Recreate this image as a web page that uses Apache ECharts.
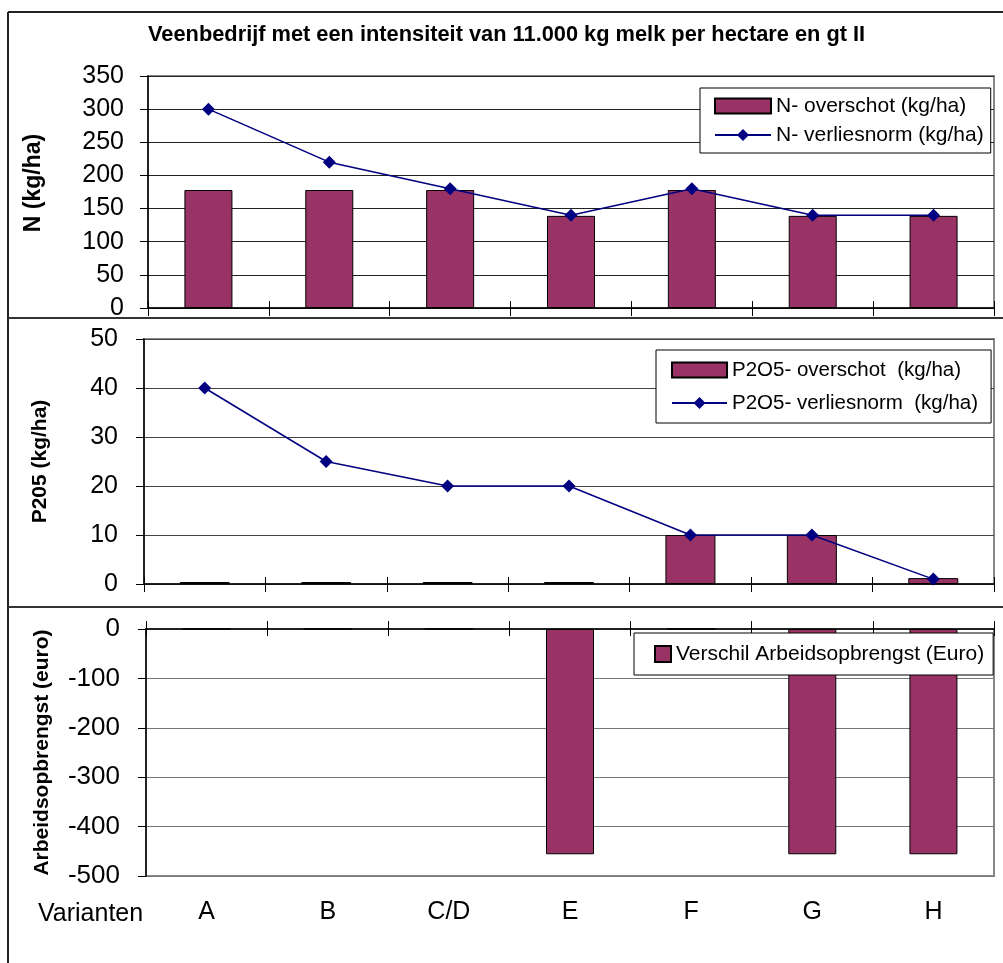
<!DOCTYPE html>
<html>
<head>
<meta charset="utf-8">
<script src="https://cdn.jsdelivr.net/npm/echarts@6/dist/echarts.min.js"></script>
<style>
html,body{margin:0;padding:0;background:#fff;}
#chart{width:1003px;height:963px;}
</style>
</head>
<body>
<div id="chart"></div>
<script>
const categories = ['A', 'B', 'C/D', 'E', 'F', 'G', 'H'];
const nOverschot = [178, 178, 178, 139, 178, 139, 139];
const nVerliesnorm = [300, 220, 180, 140, 180, 140, 140];
const pOverschot = [0.4, 0.4, 0.4, 0.4, 10, 10, 1.2];
const pVerliesnorm = [40, 25, 20, 20, 10, 10, 1];
const verschil = [0, 0, 0, -456, 0, -456, -456];
const titleText = 'Veenbedrijf met een intensiteit van 11.000 kg melk per hectare en gt II';
const xName = 'Varianten';

const FONT = 'Liberation Sans, Arial, sans-serif';
const PLUM = '#993366';
const NAVY = '#000080';

const chart = echarts.init(document.getElementById('chart'), null, {renderer: 'canvas'});

function mainX(gi, opts) {
  return Object.assign({
    type: 'category', gridIndex: gi, data: categories,
    boundaryGap: true,
    axisLine: {show: true, onZero: false, lineStyle: {color: '#000', width: 1.5}},
    axisTick: {show: true, inside: false, length: 8, lineStyle: {color: '#000', width: 1}},
    axisLabel: {show: false},
    splitLine: {show: false}
  }, opts || {});
}
function innerX(gi, opts) {
  return Object.assign({
    type: 'category', gridIndex: gi, data: categories,
    boundaryGap: true,
    axisLine: {show: false, onZero: false},
    axisTick: {show: true, inside: true, length: 7, lineStyle: {color: '#000', width: 1}},
    axisLabel: {show: false},
    splitLine: {show: false}
  }, opts || {});
}
function yAx(gi, min, max, interval, name, nameGap, nameSize, labelSize, margin, gridColor, namePad) {
  return {
    type: 'value', gridIndex: gi, min: min, max: max, interval: interval,
    name: name, nameLocation: 'middle', nameRotate: 90, nameGap: nameGap,
    nameTextStyle: {fontFamily: FONT, fontWeight: 'bold', fontSize: nameSize, color: '#000', padding: namePad || 0},
    axisLine: {show: true, lineStyle: {color: '#000', width: 1.5}},
    axisTick: {show: true, inside: false, length: 8, lineStyle: {color: '#000', width: 1}},
    axisLabel: {fontFamily: FONT, fontSize: labelSize, color: '#000', margin: margin},
    splitLine: {show: true, lineStyle: {color: gridColor, width: 1}}
  };
}

const option = {
  backgroundColor: '#fff',
  animation: false,
  title: {
    text: titleText, left: 148, top: 24, padding: 0,
    textStyle: {fontFamily: FONT, fontWeight: 'bold', fontSize: 21.8, color: '#000'}
  },
  grid: [
    {left: 148, top: 76, width: 846, height: 232, show: true, borderColor: '#888', borderWidth: 2, backgroundColor: 'transparent'},
    {left: 144, top: 339, width: 850, height: 245, show: true, borderColor: '#888', borderWidth: 2, backgroundColor: 'transparent'},
    {left: 146, top: 629, width: 848, height: 247, show: true, borderColor: '#888', borderWidth: 2, backgroundColor: 'transparent'}
  ],
  xAxis: [
    mainX(0, {position: 'bottom'}),
    innerX(0, {position: 'bottom'}),
    mainX(1, {position: 'bottom'}),
    innerX(1, {position: 'bottom'}),
    mainX(2, {position: 'top'}),
    innerX(2, {position: 'top'}),
    {
      type: 'category', gridIndex: 2, data: categories, position: 'bottom',
      axisLine: {show: false}, axisTick: {show: false}, splitLine: {show: false},
      axisLabel: {show: true, fontFamily: FONT, fontSize: 25, color: '#000', margin: 24}
    }
  ],
  yAxis: [
    yAx(0, 0, 350, 50, 'N (kg/ha)', 103, 23, 25, 24, '#222', [0, 0, 0, 18]),
    yAx(1, 0, 50, 10, 'P205 (kg/ha)', 93, 21, 25, 26, '#444'),
    yAx(2, -500, 0, 100, 'Arbeidsopbrengst (euro)', 93, 21, 26, 26, '#777')
  ],
  legend: [
    {
      data: [{name: 'N- overschot (kg/ha)', icon: 'rect'}, 'N- verliesnorm (kg/ha)'],
      orient: 'vertical', left: 700, top: 88, padding: [7, 7, 7, 14], itemGap: 7,
      itemWidth: 56, itemHeight: 15,
      backgroundColor: '#fff', borderColor: '#000', borderWidth: 1, borderRadius: 0,
      textStyle: {fontFamily: FONT, fontSize: 21, color: '#000', lineHeight: 22}
    },
    {
      data: [{name: 'P2O5- overschot  (kg/ha)', icon: 'rect'}, 'P2O5- verliesnorm  (kg/ha)'],
      orient: 'vertical', left: 656, top: 350, padding: [9, 13, 9, 15], itemGap: 11,
      itemWidth: 55, itemHeight: 15,
      backgroundColor: '#fff', borderColor: '#000', borderWidth: 1, borderRadius: 0,
      textStyle: {fontFamily: FONT, fontSize: 20.5, color: '#000', lineHeight: 22}
    },
    {
      data: [{name: 'Verschil Arbeidsopbrengst (Euro)', icon: 'rect'}],
      orient: 'vertical', left: 634, top: 633, padding: [10, 9, 10, 20],
      itemWidth: 16, itemHeight: 16,
      backgroundColor: '#fff', borderColor: '#000', borderWidth: 1, borderRadius: 0,
      textStyle: {fontFamily: FONT, fontSize: 21, color: '#000', lineHeight: 22}
    }
  ],
  series: [
    {
      name: 'N- overschot (kg/ha)', type: 'bar', xAxisIndex: 0, yAxisIndex: 0,
      data: nOverschot, barWidth: 48,
      itemStyle: {color: PLUM, borderColor: '#000', borderWidth: 1}
    },
    {
      name: 'N- verliesnorm (kg/ha)', type: 'line', xAxisIndex: 0, yAxisIndex: 0,
      data: nVerliesnorm, symbol: 'diamond', symbolSize: 13,
      lineStyle: {color: NAVY, width: 1.5}, itemStyle: {color: NAVY}
    },
    {
      name: 'P2O5- overschot  (kg/ha)', type: 'bar', xAxisIndex: 2, yAxisIndex: 1,
      data: pOverschot, barWidth: 50,
      itemStyle: {color: PLUM, borderColor: '#000', borderWidth: 1}
    },
    {
      name: 'P2O5- verliesnorm  (kg/ha)', type: 'line', xAxisIndex: 2, yAxisIndex: 1,
      data: pVerliesnorm, symbol: 'diamond', symbolSize: 13,
      lineStyle: {color: NAVY, width: 1.5}, itemStyle: {color: NAVY}
    },
    {
      name: 'Verschil Arbeidsopbrengst (Euro)', type: 'bar', xAxisIndex: 4, yAxisIndex: 2,
      data: verschil, barWidth: 48,
      itemStyle: {color: PLUM, borderColor: '#000', borderWidth: 1}
    }
  ],
  graphic: [
    {type: 'line', shape: {x1: 8, y1: 12, x2: 1003, y2: 12}, style: {stroke: '#222', lineWidth: 2}},
    {type: 'line', shape: {x1: 8, y1: 12, x2: 8, y2: 963}, style: {stroke: '#222', lineWidth: 2}},
    {type: 'line', shape: {x1: 8, y1: 318, x2: 1003, y2: 318}, style: {stroke: '#333', lineWidth: 2}},
    {type: 'line', shape: {x1: 8, y1: 607, x2: 1003, y2: 607}, style: {stroke: '#333', lineWidth: 2}},
    {type: 'text', left: 38, top: 902, style: {text: xName, font: '25px ' + FONT, fill: '#000'}}
  ]
};
chart.setOption(option);
</script>
</body>
</html>
